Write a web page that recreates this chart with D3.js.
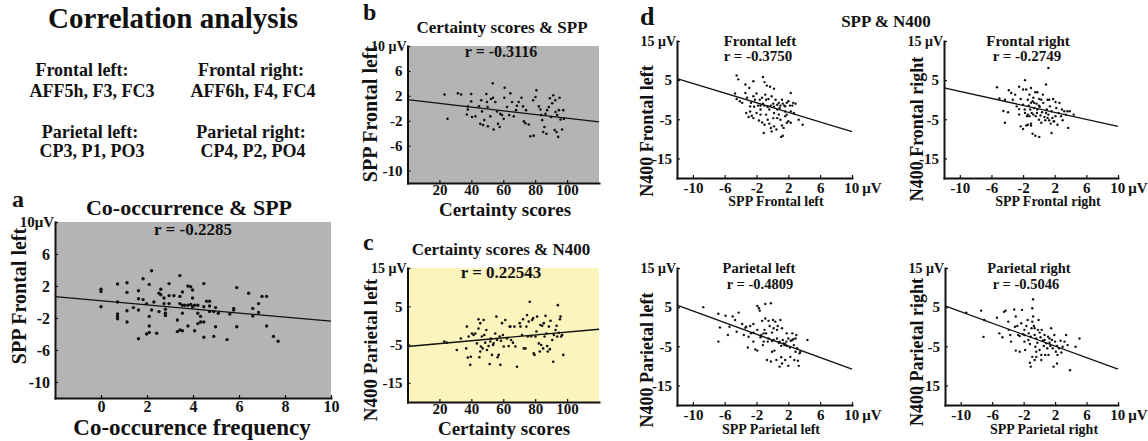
<!DOCTYPE html>
<html><head><meta charset="utf-8">
<script src="https://cdn.jsdelivr.net/npm/d3@7"></script>
<style>
body{margin:0;background:#fff}
svg text{font-family:"Liberation Serif","Times New Roman",serif;font-weight:bold;fill:#111}
</style>
</head><body>
<svg id="chart" width="1148" height="441"></svg>
<script>
// ---------- data ----------
const coocSpp = [[0,1.6],[0,1.3],[0,-0.6],[0.72,2.25],[0.72,0],[0.72,-1.5],[0.72,-1.8],[0.72,-2.1],
[1.13,2.4],[1.13,1.2],[1.13,-1.1],[1.13,-2.5],[1.41,-0.7],[1.63,1.4],[1.63,0.4],[1.63,-1.0],[1.63,-4.6],
[1.83,2.9],[1.83,0.3],[1.98,-0.2],[1.98,-4.0],[2.1,2.2],[2.1,-1.8],[2.1,-3.0],[2.1,-3.8],[2.2,3.9],[2.2,-1.0],
[2.3,0],[2.42,-3.9],[2.52,1.1],[2.52,-1.2],[2.6,1.6],[2.6,0.9],[2.74,0.5],[2.74,-0.2],[2.8,-0.9],[2.8,-1.4],[2.8,-1.7],
[2.96,2.3],[2.96,0.8],[2.96,-0.2],[3.17,0.8],[3.32,-2.25],[3.32,-3.7],[3.43,3.3],[3.43,0.7],[3.43,-0.2],[3.43,-3.5],
[3.54,1.25],[3.54,-0.4],[3.54,-1.4],[3.54,-3.6],[3.64,-0.4],[3.78,2.0],[3.78,-0.4],[3.78,-3.0],[3.9,1.9],[3.9,-0.3],
[3.98,1.5],[3.98,0.5],[3.98,-0.6],[4.07,-0.4],[4.07,-3.6],[4.21,-0.4],[4.21,-1.4],[4.21,-2.7],[4.33,-1.8],[4.33,-2.5],
[4.47,2.3],[4.47,-0.6],[4.47,-2.5],[4.47,-4.4],[4.59,0.1],[4.72,0.1],[4.72,-0.5],[4.72,-1.2],[4.9,-1.2],[4.9,-4.3],
[4.98,-0.7],[4.98,-3.1],[5.1,-1.4],[5.48,-4.7],[5.6,-1.5],[5.77,-0.8],[5.77,-1.0],[5.9,1.8],[5.9,-3.1],[6.42,1.1],
[6.6,-0.8],[6.6,-1.75],[6.85,-0.2],[6.85,-1.3],[7.0,0.7],[7.2,0.7],[7.2,-3.0],[7.5,-4.3],[7.7,-4.9]];

const certSpp = [[23.2,2.2],[25.1,-1.7],[31.6,2.4],[33.6,2.2],[37.8,0.3],[37.8,-0.2],[37.2,-1.0],[39.9,2.3],[39.9,1.1],
[40.4,-1.4],[42.5,-1.3],[44.8,0.3],[45.6,-2.5],[46.2,1.3],[46.7,-0.5],[47.3,-2.7],[48.1,-1.9],[49.4,2.3],[49.8,1.0],
[50.2,0.2],[50.4,-2.9],[51.9,-1.3],[52.3,1.5],[53.4,4.0],[53.6,1.7],[54.0,-3.4],[55.0,1.0],[56.1,-0.5],[56.7,-2.5],
[57.8,-3.0],[58.2,-0.9],[59.2,-1.1],[60.3,-1.7],[60.7,1.7],[60.9,3.3],[62.4,0.2],[63.7,-1.1],[64.5,2.4],[65.5,1.0],
[66.6,-1.3],[68.0,-0.3],[68.6,0.4],[69.7,1.0],[71.4,1.7],[72.4,0.3],[72.9,-2.1],[73.9,-2.4],[74.3,-0.3],[76.0,-2.6],
[77.0,-4.5],[78.7,1.3],[79.1,-4.4],[80.2,1.8],[80.8,2.9],[82.3,0.3],[83.3,-0.2],[83.8,-1.1],[84.4,-1.9],[85.0,-3.8],
[85.8,-3.0],[86.5,-0.9],[87.1,-4.1],[87.5,-0.3],[88.6,0.2],[89.2,1.6],[90.0,-1.4],[90.7,0.8],[91.3,2.1],[92.2,-3.5],
[92.6,1.3],[92.8,-0.6],[93.4,-3.8],[93.8,-1.1],[94.4,-4.6],[94.9,-0.3],[95.3,1.7],[95.9,-1.8],[96.9,-3.4],[97.6,-0.3],[98.0,-1.7]];

const certN400 = [[23.0,-4.2],[24.6,-4.5],[30.9,-6.4],[33.4,-3.4],[36.8,-6.0],[37.2,-0.3],[37.8,-8.4],[38.3,-2.9],
[39.3,-10.3],[39.7,-8.2],[40.4,-2.1],[41.4,-2.5],[42.5,-2.1],[43.5,-4.7],[44.5,-0.8],[44.5,1.6],[45.0,-8.3],[45.6,0.6],
[45.6,-6.8],[46.0,-5.5],[46.6,-2.9],[47.1,-6.0],[47.7,1.4],[48.1,-2.5],[48.7,-4.5],[49.4,-1.2],[49.8,-6.4],[50.8,-5.4],
[51.5,-10.1],[51.9,-4.2],[52.3,-3.4],[52.9,-7.7],[53.6,-5.1],[54.0,-4.7],[55.0,-2.1],[55.7,2.3],[56.1,-3.8],[56.5,-8.3],
[57.1,-7.7],[57.8,-2.9],[58.2,-10.3],[58.6,-4.0],[59.2,0.6],[59.8,-2.5],[60.3,-5.5],[61.3,1.4],[62.4,-3.4],[63.4,-5.4],
[64.0,-0.3],[64.5,-0.3],[64.9,-3.8],[66.1,-4.5],[67.0,-0.3],[67.6,-5.5],[68.6,-10.8],[70.3,0.6],[70.8,-0.3],[71.8,-2.5],
[72.4,1.6],[72.9,-6.0],[73.9,-6.0],[74.5,-0.3],[74.9,2.7],[75.4,-2.9],[76.0,1.0],[76.6,6.2],[77.5,-2.8],[78.1,1.4],
[78.7,1.9],[79.1,-7.3],[79.6,-7.7],[80.2,-2.9],[80.8,-1.6],[81.2,2.3],[82.3,-4.7],[82.9,-6.8],[83.3,0.1],[83.8,-5.1],
[84.4,-0.1],[85.0,-6.0],[85.4,0.6],[85.9,-2.9],[86.5,2.5],[87.1,-2.1],[87.5,-5.4],[87.9,-6.8],[88.6,-0.3],[89.2,-6.2],
[89.6,1.2],[90.7,-3.8],[91.3,-9.5],[91.7,-2.5],[92.8,-1.2],[93.4,-0.1],[93.8,-2.9],[94.2,5.3],[94.9,-1.9],[95.5,1.6],
[95.9,2.3],[96.3,-2.9],[96.9,-2.5],[97.6,-7.7]];

const frontalLeft = [[-4.5,6.2],[-4.3,5.2],[-3.4,3.9],[-2.4,4.7],[-1.2,5.8],[-1.0,4.5],[-0.7,3.6],[-0.3,3.3],[0.2,2.8],
[-4.7,1.6],[-4.5,0.2],[-4.1,-0.4],[-3.8,-0.8],[-3.4,1.7],[-3.2,0.5],[-2.9,3.0],[-2.7,-0.8],[-2.4,0.9],[-2.2,0.0],[-2.0,1.6],
[-1.8,-1.5],[-1.6,0.0],[-1.5,-2.5],[-1.3,0.5],[-1.2,-1.0],[-1.0,-1.5],[-0.9,1.3],[-0.8,0.0],[-0.6,-1.8],[-0.5,0.2],
[-0.4,-2.5],[-0.2,-1.5],[-0.1,0.9],[0.1,-1.0],[0.2,-1.8],[0.4,0.0],[0.6,-1.3],[0.8,-0.8],[1.0,-1.5],[1.2,0.0],[1.3,-1.0],
[1.5,-1.5],[1.6,-1.7],[1.8,-0.8],[2.0,-0.4],[2.2,-1.5],[2.3,1.7],[2.5,-1.5],[2.6,-0.8],[2.9,-1.0],[-3.3,-3.4],[-3.0,-4.4],
[-2.8,-3.0],[-2.6,-4.1],[-2.4,-4.7],[-2.0,-3.4],[-1.7,-5.3],[-1.5,-3.8],[-1.3,-5.8],[-1.0,-6.4],[-0.8,-3.8],[-0.6,-5.1],
[-0.4,-6.1],[-0.2,-7.2],[0.1,-4.7],[0.2,-6.8],[0.5,-7.6],[0.8,-3.8],[1.0,-5.1],[1.2,-6.6],[1.4,-7.2],[1.6,-4.2],[1.8,-5.9],
[2.0,-5.5],[2.3,-5.9],[-0.1,-8.1],[1.1,-9.5],[-1.1,-8.5],[1.3,-9.2],[3.3,-5.1],[3.8,-6.4],[-0.6,-1.7],[0.6,-2.5],[1.6,-3.0],
[-1.5,-1.5],[-2.3,-1.8],[-2.8,-1.7],[0.6,-4.7],[2.3,-3.0],[0.2,-3.4],[0.9,-2.1],[1.8,-3.8],[2.7,-3.4]];

const frontalRight = [[1.2,8.1],[-1.75,5.0],[-5.3,3.2],[-5.0,0.3],[-4.3,0.0],[-4.5,-2.9],[-3.9,-3.2],[-4.3,-5.9],[-3.8,2.4],
[-3.5,1.7],[-3.0,1.3],[-2.5,3.3],[-2.3,0.2],[-2.5,-2.4],[-2.3,-6.8],[-2.0,-1.3],[-1.8,-2.5],[-1.6,2.6],[-1.5,-4.2],[-1.4,0.0],
[-1.3,-1.5],[-1.2,1.3],[-1.1,-2.5],[-1.0,3.0],[-0.9,-3.4],[-0.8,-0.4],[-0.7,0.5],[-0.6,-2.1],[-0.45,1.9],[-0.4,-4.2],
[-0.3,-1.0],[-0.2,-2.5],[0.0,-5.1],[0.05,0.2],[0.1,-1.8],[0.3,-5.9],[0.4,-3.2],[0.5,1.3],[0.55,-0.8],[0.7,-4.4],[0.8,-5.25],
[0.9,3.9],[1.0,-2.5],[1.1,0.0],[1.2,-3.8],[1.3,-5.25],[1.4,-1.7],[1.5,-6.1],[1.6,-2.95],[1.7,-4.65],[1.8,0.2],[1.9,-5.5],
[2.1,-0.6],[2.1,-4.2],[2.2,-2.1],[2.35,-6.4],[2.5,-3.4],[2.6,-0.8],[2.8,-4.2],[2.9,-2.5],[3.0,-5.25],[3.2,-2.95],[3.4,-3.8],
[3.6,-2.95],[3.7,-7.2],[3.9,-2.95],[4.4,-3.8],[-1.4,-6.4],[-1.0,-6.1],[-0.8,-8.7],[-0.45,-9.2],[0.05,-9.5],[-1.0,-6.6],
[-1.6,-6.6],[-2.0,-7.5],[1.6,-8.5],[1.9,-5.5],[-1.75,-3.4],[-1.4,-3.8],[-1.2,-4.2],[-0.7,-3.8],[-0.25,-3.4],[0.2,-4.05],
[0.9,-3.4],[1.1,-4.65],[0.0,-1.5],[-0.6,-0.8],[-0.2,1.9],[-1.0,-0.8],[0.3,0.0],[1.3,0.0],[-3.3,0.0],[-2.8,-1.7],[-2.5,-3.8],[-2.0,2.6]];

const parietalLeft = [[-8.7,5.0],[-6.8,3.3],[-6.8,-3.8],[-6.6,-0.2],[-5.9,2.8],[-5.6,-2.1],[-5.4,0.0],[-5.0,2.6],[-4.7,1.7],
[-4.25,3.6],[-4.5,-1.3],[-3.8,0.7],[-3.6,-2.1],[-3.4,-0.25],[-3.3,0.0],[-3.1,-5.3],[-3.0,-2.55],[-2.7,-1.7],[-2.4,-3.8],
[-2.15,-5.8],[-1.9,5.3],[-1.9,-0.8],[-1.9,-6.1],[-1.7,4.7],[-1.6,4.1],[-1.5,-2.7],[-1.4,-2.1],[-1.3,1.5],[-1.2,-4.7],
[-1.1,-3.8],[-1.0,-0.8],[-0.9,2.1],[-0.9,5.8],[-0.8,-1.7],[-0.7,-8.5],[-0.6,-3.8],[-0.5,1.5],[-0.35,0.2],[-0.2,6.0],
[-0.2,-8.9],[-0.06,-1.5],[-0.06,-3.65],[0.07,1.7],[0.15,-3.4],[0.24,-6.1],[0.36,1.3],[0.5,-8.5],[0.57,-3.0],[0.66,0.2],
[0.8,-4.1],[0.9,-3.8],[1.0,1.7],[1.1,-4.9],[1.1,-7.8],[1.2,-9.4],[1.3,-3.4],[1.4,-4.25],[1.5,-4.7],[1.6,-4.4],[1.75,-3.8],
[1.8,-4.9],[2.0,-3.0],[2.2,-5.3],[2.25,-7.7],[2.3,-3.6],[2.5,-1.7],[2.6,-3.2],[2.7,-4.7],[2.75,-8.5],[2.9,-6.4],[3.0,-2.1],
[3.1,-5.5],[3.2,-8.7],[3.3,-10.0],[3.4,-6.8],[3.5,-6.4],[4.4,-3.4],[-2.8,0.2],[-2.4,0.7],[0.15,-0.4],[0.57,-0.8],[1.2,-0.4],
[1.8,-1.7],[2.5,-3.4],[2.9,-3.0],[-0.5,-3.0],[-1.1,-1.7],[-2.4,-1.5],[2.0,-10.0],[1.6,-8.5],[0.9,-10.2],[-0.06,-6.4]];

const parietalRight = [[-9.3,3.6],[-7.4,4.1],[-7.0,1.7],[-7.1,-2.6],[-5.4,2.3],[-5.1,-1.7],[-4.7,-2.7],[-4.5,3.8],[-4.3,4.1],
[-3.95,1.3],[-3.9,-0.8],[-3.7,-2.1],[-3.6,-3.8],[-3.2,4.4],[-3.0,2.6],[-3.0,-6.1],[-2.8,0.2],[-2.7,-2.1],[-2.5,-6.4],
[-2.2,4.3],[-2.1,-1.9],[-1.9,-3.8],[-1.9,-0.8],[-1.8,-5.95],[-1.65,0.2],[-1.5,1.7],[-1.4,-3.4],[-1.35,-1.7],[-1.2,-9.2],
[-1.1,-2.55],[-1.0,-0.4],[-0.9,4.7],[-0.9,1.3],[-0.8,2.6],[-0.8,7.0],[-0.7,0.2],[-0.6,-2.1],[-0.5,-5.1],[-0.4,-7.7],
[-0.4,-3.0],[-0.26,-4.1],[-0.18,-0.8],[-0.1,1.7],[0.03,-5.95],[0.15,-2.7],[0.24,-8.5],[0.3,-0.8],[0.45,-3.6],[0.57,-4.9],
[0.66,-2.1],[0.74,-7.2],[0.87,-4.25],[1.0,-5.5],[1.1,-2.55],[1.16,-7.2],[1.3,-4.1],[1.4,-4.9],[1.5,-0.4],[1.6,-3.4],
[1.7,-5.5],[1.8,-10.2],[1.9,-2.1],[2.0,-3.8],[2.1,-6.4],[2.25,-4.9],[2.3,-7.2],[2.5,-5.5],[2.7,-3.6],[2.8,-6.6],[2.96,-5.1],
[3.2,-3.8],[3.4,-2.1],[3.6,-4.7],[3.9,-11.1],[4.6,-5.1],[5.1,-3.0],[-0.6,-0.4],[-1.2,-4.4],[-1.9,-2.1],[0.03,-1.5],
[0.66,-3.4],[1.3,-3.0],[-2.5,-2.4],[-3.1,0.0],[-2.3,0.9],[-0.4,-6.4],[-0.9,-7.7],[-0.6,-8.5],[0.24,-7.2],[2.25,-9.4],[-1.1,-10.2]];

// fitted regression lines: [intercept, slope]
const fitCoocSpp = [0.15, -0.255];
const fitCertSpp = [1.4, -0.03];
const fitCertN400 = [-5.5, 0.0375];
const fitFrontalLeft = [-2.0, -0.618];
const fitFrontalRight = [-2.34, -0.445];
const fitParietalLeft = [-3.4, -0.741];
const fitParietalRight = [-3.5, -0.736];

// tick values
const coocTicks = [0, 2, 4, 6, 8, 10];
const certTicks = [20, 40, 60, 80, 100];
const sppTicks = [10, 6, 2, -2, -6, -10];
const n400Ticks = [15, 5, -5, -15];
const sppXTicks = [-10, -6, -2, 2, 6, 10];

// ---------- drawing ----------
const svg = d3.select('#chart');
const INK = '#111';

function panel(o) {
  const x = d3.scaleLinear().domain(o.xd).range(o.xr);
  const y = d3.scaleLinear().domain(o.yd).range(o.yr);
  const g = svg.append('g');
  if (o.bg) {
    g.append('rect').attr('x', o.xr[0]).attr('y', o.yr[1])
      .attr('width', o.xr[1] - o.xr[0]).attr('height', o.yr[0] - o.yr[1]).attr('fill', o.bg);
  }
  g.selectAll('circle').data(o.pts).join('circle')
    .attr('cx', d => x(d[0])).attr('cy', d => y(d[1])).attr('r', o.r).attr('fill', INK);
  const line = d3.line().x(d => x(d)).y(d => y(o.fit[0] + o.fit[1] * d));
  g.append('path').datum(o.xd).attr('d', line).attr('fill', 'none')
    .attr('stroke', INK).attr('stroke-width', 1.3);

  const xa = d3.axisBottom(x).tickValues(o.xt).tickSize(-3).tickSizeOuter(0)
    .tickPadding(o.xpad).tickFormat(o.xf || (d => d));
  const ya = d3.axisLeft(y).tickValues(o.yt).tickSize(-3).tickSizeOuter(0)
    .tickPadding(o.ypad).tickFormat(o.yf || (d => d));
  const gx = g.append('g').attr('transform', `translate(0,${o.yr[0]})`).call(xa);
  const gy = g.append('g').attr('transform', `translate(${o.xr[0]},0)`).call(ya);
  [gx, gy].forEach(a => {
    a.select('.domain').attr('stroke', INK).attr('stroke-width', 2).attr('stroke-linecap', 'square');
    a.selectAll('.tick line').attr('stroke', INK).attr('stroke-width', 1.2);
    a.selectAll('.tick text').attr('font-size', o.tf).attr('fill', INK);
  });
  if (o.xUnit) {
    gx.selectAll('.tick text').filter(d => d === o.xd[1])
      .attr('text-anchor', 'start').attr('dx', '-0.55em');
  }
  gy.selectAll('.tick text').filter(d => d === o.yt[0])
    .attr('dx', 4).attr('font-size', o.tf - 1);
  return g;
}

function txt(s, x, y, size, anchor = 'middle') {
  svg.append('text').attr('x', x).attr('y', y).attr('font-size', size)
    .attr('text-anchor', anchor).text(s);
}
function vtxt(s, x, y, size) {
  svg.append('text').attr('transform', `translate(${x},${y}) rotate(-90)`)
    .attr('font-size', size).attr('text-anchor', 'middle').text(s);
}

// header text
txt('Correlation analysis', 173, 28, 29);
txt('Frontal left:', 82, 76, 18);
txt('AFF5h, F3, FC3', 92, 97, 18);
txt('Frontal right:', 251, 76, 18);
txt('AFF6h, F4, FC4', 253, 97, 18);
txt('Parietal left:', 90, 138, 18);
txt('CP3, P1, PO3', 92, 157, 18);
txt('Parietal right:', 251, 138, 18);
txt('CP4, P2, PO4', 253, 157, 18);

// panel a
panel({pts: coocSpp, fit: fitCoocSpp, xd: [-2, 10], yd: [-12, 10], xr: [55, 331], yr: [398, 222],
  bg: '#b4b4b4', xt: coocTicks, yt: sppTicks, yf: d => d === 10 ? '10μV' : d,
  tf: 16, xpad: 3, ypad: 5, r: 1.7});
txt('a', 12, 207, 24, 'start');
txt('Co-occurrence & SPP', 189, 215, 22);
txt('r = -0.2285', 193, 235, 17);
txt('Co-occurence frequency', 192, 435, 23);
vtxt('SPP Frontal left', 26, 296, 20);

// panel b
panel({pts: certSpp, fit: fitCertSpp, xd: [0, 120], yd: [-12, 10], xr: [407.5, 599], yr: [183, 46],
  bg: '#b4b4b4', xt: certTicks, yt: sppTicks, yf: d => d === 10 ? '10 μV' : d,
  tf: 15, xpad: 1, ypad: 5, r: 1.3});
txt('b', 363, 20, 24, 'start');
txt('Certainty scores & SPP', 502, 33, 17);
txt('r = -0.3116', 501, 57, 16);
txt('Certainty scores', 505, 216, 19);
vtxt('SPP Frontal left', 377, 114, 20);

// panel c
panel({pts: certN400, fit: fitCertN400, xd: [0, 120], yd: [-20, 15], xr: [407.5, 599], yr: [402, 268],
  bg: '#fbf4bc', xt: certTicks, yt: n400Ticks, yf: d => d === 15 ? '15 μV' : d,
  tf: 15, xpad: 1, ypad: 5, r: 1.3});
txt('c', 363, 250, 24, 'start');
txt('Certainty scores & N400', 501, 255, 17);
txt('r = 0.22543', 501, 278, 17);
txt('Certainty scores', 504, 435, 19);
vtxt('N400 Parietal left', 377, 350, 19);

// panel d
txt('d', 640, 25, 26, 'start');
txt('SPP & N400', 886, 27, 17);
const dCommon = {xd: [-12, 10], yd: [-20, 15], xt: sppXTicks, yt: n400Ticks,
  xf: d => d === 10 ? '10\u2009μV' : d, yf: d => d === 15 ? '15 μV' : d,
  tf: 15, xpad: 4, ypad: 5, r: 1.2, xUnit: true};
panel(Object.assign({}, dCommon, {pts: frontalLeft, fit: fitFrontalLeft, xr: [677, 852], yr: [178, 41]}));
txt('Frontal left', 760, 46, 15);
txt('r = -0.3750', 758, 61, 15);
txt('SPP Frontal left', 776, 206, 14);
vtxt('N400 Frontal left', 653, 131, 18);

panel(Object.assign({}, dCommon, {pts: frontalRight, fit: fitFrontalRight, xr: [944, 1118], yr: [178, 41]}));
txt('Frontal right', 1028, 46, 15);
txt('r = -0.2749', 1027, 61, 15);
txt('SPP Frontal right', 1048, 206, 14);
vtxt('N400 Frontal right', 923, 129, 18);

panel(Object.assign({}, dCommon, {pts: parietalLeft, fit: fitParietalLeft, xr: [677, 852], yr: [405, 268]}));
txt('Parietal left', 759, 273, 14.5);
txt('r = -0.4809', 760, 289, 14.5);
txt('SPP Parietal left', 771, 434, 14);
vtxt('N400 Parietal left', 653, 360, 18);

panel(Object.assign({}, dCommon, {pts: parietalRight, fit: fitParietalRight, xr: [945, 1118], yr: [405, 268]}));
txt('Parietal right', 1029, 273, 14.5);
txt('r = -0.5046', 1026, 289, 14.5);
txt('SPP Parietal right', 1044, 434, 14);
vtxt('N400 Parietal right', 923, 352, 18);
</script>
</body></html>
